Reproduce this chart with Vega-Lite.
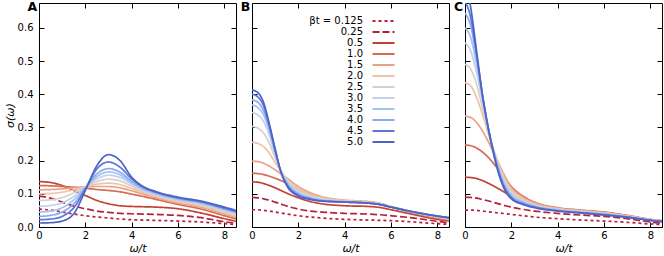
{
"$schema": "https://vega.github.io/schema/vega-lite/v6.json",
"padding": {"left": 3, "top": 0, "right": 2, "bottom": 2},
"background": "white",
"config": {
  "font": "DejaVu Sans",
  "view": {"stroke": "black", "strokeWidth": 1},
  "axis": {"domain": false, "grid": false, "ticks": true, "tickSize": -5, "tickColor": "black", "tickWidth": 1, "labelFontSize": 10, "labelColor": "black", "labelFont": "DejaVu Sans", "titleFont": "DejaVu Sans", "titleFontSize": 11, "titleFontWeight": "normal", "titleFontStyle": "italic", "titleColor": "black", "titlePadding": 2, "labelFlush": false},
  "axisX": {"labelPadding": 8},
  "axisY": {"labelPadding": 11},
  "title": {"anchor": "start", "frame": "group", "dx": -11.5, "offset": -8, "dy": 3, "baseline": "alphabetic", "fontSize": 12.5, "fontWeight": "bold", "font": "DejaVu Sans", "color": "black"}
},
"datasets": {"d": [
{"p":"A","b":"0.125","x":0,"y":0.054},{"p":"A","b":"0.125","x":0.5,"y":0.051},{"p":"A","b":"0.125","x":1,"y":0.045},{"p":"A","b":"0.125","x":1.5,"y":0.039},{"p":"A","b":"0.125","x":2,"y":0.034},{"p":"A","b":"0.125","x":2.5,"y":0.03},{"p":"A","b":"0.125","x":3,"y":0.027},{"p":"A","b":"0.125","x":3.5,"y":0.024},{"p":"A","b":"0.125","x":4,"y":0.022},{"p":"A","b":"0.125","x":4.5,"y":0.021},{"p":"A","b":"0.125","x":5,"y":0.02},{"p":"A","b":"0.125","x":6,"y":0.018},{"p":"A","b":"0.125","x":7,"y":0.015},{"p":"A","b":"0.125","x":8,"y":0.01},{"p":"A","b":"0.125","x":8.5,"y":0.007},
{"p":"A","b":"0.25","x":0,"y":0.093},{"p":"A","b":"0.25","x":0.5,"y":0.087},{"p":"A","b":"0.25","x":1,"y":0.075},{"p":"A","b":"0.25","x":1.5,"y":0.063},{"p":"A","b":"0.25","x":2,"y":0.055},{"p":"A","b":"0.25","x":2.5,"y":0.048},{"p":"A","b":"0.25","x":3,"y":0.044},{"p":"A","b":"0.25","x":3.5,"y":0.041},{"p":"A","b":"0.25","x":4,"y":0.04},{"p":"A","b":"0.25","x":4.5,"y":0.039},{"p":"A","b":"0.25","x":5,"y":0.038},{"p":"A","b":"0.25","x":6,"y":0.035},{"p":"A","b":"0.25","x":7,"y":0.028},{"p":"A","b":"0.25","x":8,"y":0.016},{"p":"A","b":"0.25","x":8.5,"y":0.011},
{"p":"A","b":"0.5","x":0,"y":0.137},{"p":"A","b":"0.5","x":0.5,"y":0.134},{"p":"A","b":"0.5","x":1,"y":0.125},{"p":"A","b":"0.5","x":1.5,"y":0.11},{"p":"A","b":"0.5","x":2,"y":0.095},{"p":"A","b":"0.5","x":2.5,"y":0.08},{"p":"A","b":"0.5","x":3,"y":0.07},{"p":"A","b":"0.5","x":3.5,"y":0.064},{"p":"A","b":"0.5","x":4,"y":0.062},{"p":"A","b":"0.5","x":4.5,"y":0.061},{"p":"A","b":"0.5","x":5,"y":0.06},{"p":"A","b":"0.5","x":6,"y":0.055},{"p":"A","b":"0.5","x":7,"y":0.042},{"p":"A","b":"0.5","x":8,"y":0.025},{"p":"A","b":"0.5","x":8.5,"y":0.017},
{"p":"A","b":"1.0","x":0,"y":0.125},{"p":"A","b":"1.0","x":0.5,"y":0.124},{"p":"A","b":"1.0","x":1,"y":0.122},{"p":"A","b":"1.0","x":1.5,"y":0.12},{"p":"A","b":"1.0","x":2,"y":0.117},{"p":"A","b":"1.0","x":2.5,"y":0.113},{"p":"A","b":"1.0","x":3,"y":0.11},{"p":"A","b":"1.0","x":3.5,"y":0.106},{"p":"A","b":"1.0","x":4,"y":0.099},{"p":"A","b":"1.0","x":4.5,"y":0.092},{"p":"A","b":"1.0","x":5,"y":0.084},{"p":"A","b":"1.0","x":6,"y":0.068},{"p":"A","b":"1.0","x":7,"y":0.054},{"p":"A","b":"1.0","x":8,"y":0.034},{"p":"A","b":"1.0","x":8.5,"y":0.024},
{"p":"A","b":"1.5","x":0,"y":0.112},{"p":"A","b":"1.5","x":0.5,"y":0.113},{"p":"A","b":"1.5","x":1,"y":0.115},{"p":"A","b":"1.5","x":1.5,"y":0.118},{"p":"A","b":"1.5","x":2,"y":0.121},{"p":"A","b":"1.5","x":2.5,"y":0.122},{"p":"A","b":"1.5","x":3,"y":0.122},{"p":"A","b":"1.5","x":3.5,"y":0.118},{"p":"A","b":"1.5","x":4,"y":0.109},{"p":"A","b":"1.5","x":4.5,"y":0.099},{"p":"A","b":"1.5","x":5,"y":0.089},{"p":"A","b":"1.5","x":6,"y":0.072},{"p":"A","b":"1.5","x":7,"y":0.059},{"p":"A","b":"1.5","x":8,"y":0.039},{"p":"A","b":"1.5","x":8.5,"y":0.029},
{"p":"A","b":"2.0","x":0,"y":0.1},{"p":"A","b":"2.0","x":0.5,"y":0.101},{"p":"A","b":"2.0","x":1,"y":0.105},{"p":"A","b":"2.0","x":1.5,"y":0.112},{"p":"A","b":"2.0","x":2,"y":0.121},{"p":"A","b":"2.0","x":2.5,"y":0.129},{"p":"A","b":"2.0","x":3,"y":0.132},{"p":"A","b":"2.0","x":3.5,"y":0.128},{"p":"A","b":"2.0","x":4,"y":0.116},{"p":"A","b":"2.0","x":4.5,"y":0.104},{"p":"A","b":"2.0","x":5,"y":0.093},{"p":"A","b":"2.0","x":6,"y":0.076},{"p":"A","b":"2.0","x":7,"y":0.063},{"p":"A","b":"2.0","x":8,"y":0.043},{"p":"A","b":"2.0","x":8.5,"y":0.033},
{"p":"A","b":"2.5","x":0,"y":0.08},{"p":"A","b":"2.5","x":0.5,"y":0.082},{"p":"A","b":"2.5","x":1,"y":0.089},{"p":"A","b":"2.5","x":1.5,"y":0.103},{"p":"A","b":"2.5","x":2,"y":0.121},{"p":"A","b":"2.5","x":2.5,"y":0.137},{"p":"A","b":"2.5","x":3,"y":0.144},{"p":"A","b":"2.5","x":3.5,"y":0.139},{"p":"A","b":"2.5","x":4,"y":0.123},{"p":"A","b":"2.5","x":4.5,"y":0.108},{"p":"A","b":"2.5","x":5,"y":0.096},{"p":"A","b":"2.5","x":6,"y":0.079},{"p":"A","b":"2.5","x":7,"y":0.067},{"p":"A","b":"2.5","x":8,"y":0.047},{"p":"A","b":"2.5","x":8.5,"y":0.037},
{"p":"A","b":"3.0","x":0,"y":0.062},{"p":"A","b":"3.0","x":0.5,"y":0.065},{"p":"A","b":"3.0","x":1,"y":0.073},{"p":"A","b":"3.0","x":1.5,"y":0.092},{"p":"A","b":"3.0","x":2,"y":0.12},{"p":"A","b":"3.0","x":2.5,"y":0.145},{"p":"A","b":"3.0","x":3,"y":0.156},{"p":"A","b":"3.0","x":3.5,"y":0.149},{"p":"A","b":"3.0","x":4,"y":0.129},{"p":"A","b":"3.0","x":4.5,"y":0.111},{"p":"A","b":"3.0","x":5,"y":0.099},{"p":"A","b":"3.0","x":6,"y":0.082},{"p":"A","b":"3.0","x":7,"y":0.07},{"p":"A","b":"3.0","x":8,"y":0.05},{"p":"A","b":"3.0","x":8.5,"y":0.04},
{"p":"A","b":"3.5","x":0,"y":0.045},{"p":"A","b":"3.5","x":0.5,"y":0.048},{"p":"A","b":"3.5","x":1,"y":0.058},{"p":"A","b":"3.5","x":1.5,"y":0.082},{"p":"A","b":"3.5","x":2,"y":0.119},{"p":"A","b":"3.5","x":2.5,"y":0.152},{"p":"A","b":"3.5","x":3,"y":0.166},{"p":"A","b":"3.5","x":3.5,"y":0.157},{"p":"A","b":"3.5","x":4,"y":0.133},{"p":"A","b":"3.5","x":4.5,"y":0.114},{"p":"A","b":"3.5","x":5,"y":0.102},{"p":"A","b":"3.5","x":6,"y":0.084},{"p":"A","b":"3.5","x":7,"y":0.072},{"p":"A","b":"3.5","x":8,"y":0.053},{"p":"A","b":"3.5","x":8.5,"y":0.043},
{"p":"A","b":"4.0","x":0,"y":0.032},{"p":"A","b":"4.0","x":0.5,"y":0.035},{"p":"A","b":"4.0","x":1,"y":0.045},{"p":"A","b":"4.0","x":1.5,"y":0.07},{"p":"A","b":"4.0","x":2,"y":0.117},{"p":"A","b":"4.0","x":2.5,"y":0.16},{"p":"A","b":"4.0","x":3,"y":0.176},{"p":"A","b":"4.0","x":3.5,"y":0.165},{"p":"A","b":"4.0","x":4,"y":0.138},{"p":"A","b":"4.0","x":4.5,"y":0.117},{"p":"A","b":"4.0","x":5,"y":0.104},{"p":"A","b":"4.0","x":6,"y":0.086},{"p":"A","b":"4.0","x":7,"y":0.074},{"p":"A","b":"4.0","x":8,"y":0.055},{"p":"A","b":"4.0","x":8.5,"y":0.045},
{"p":"A","b":"4.5","x":0,"y":0.022},{"p":"A","b":"4.5","x":0.5,"y":0.024},{"p":"A","b":"4.5","x":1,"y":0.032},{"p":"A","b":"4.5","x":1.5,"y":0.058},{"p":"A","b":"4.5","x":2,"y":0.115},{"p":"A","b":"4.5","x":2.5,"y":0.175},{"p":"A","b":"4.5","x":3,"y":0.196},{"p":"A","b":"4.5","x":3.5,"y":0.18},{"p":"A","b":"4.5","x":4,"y":0.145},{"p":"A","b":"4.5","x":4.5,"y":0.12},{"p":"A","b":"4.5","x":5,"y":0.106},{"p":"A","b":"4.5","x":6,"y":0.088},{"p":"A","b":"4.5","x":7,"y":0.076},{"p":"A","b":"4.5","x":8,"y":0.057},{"p":"A","b":"4.5","x":8.5,"y":0.047},
{"p":"A","b":"5.0","x":0,"y":0.012},{"p":"A","b":"5.0","x":0.5,"y":0.013},{"p":"A","b":"5.0","x":1,"y":0.018},{"p":"A","b":"5.0","x":1.5,"y":0.04},{"p":"A","b":"5.0","x":2,"y":0.11},{"p":"A","b":"5.0","x":2.5,"y":0.185},{"p":"A","b":"5.0","x":3,"y":0.218},{"p":"A","b":"5.0","x":3.5,"y":0.2},{"p":"A","b":"5.0","x":4,"y":0.15},{"p":"A","b":"5.0","x":4.5,"y":0.122},{"p":"A","b":"5.0","x":5,"y":0.108},{"p":"A","b":"5.0","x":6,"y":0.09},{"p":"A","b":"5.0","x":7,"y":0.078},{"p":"A","b":"5.0","x":8,"y":0.06},{"p":"A","b":"5.0","x":8.5,"y":0.05},

{"p":"B","b":"0.125","x":0,"y":0.052},{"p":"B","b":"0.125","x":0.25,"y":0.052},{"p":"B","b":"0.125","x":0.5,"y":0.05},{"p":"B","b":"0.125","x":0.75,"y":0.048},{"p":"B","b":"0.125","x":1,"y":0.045},{"p":"B","b":"0.125","x":1.25,"y":0.042},{"p":"B","b":"0.125","x":1.5,"y":0.039},{"p":"B","b":"0.125","x":2,"y":0.034},{"p":"B","b":"0.125","x":2.5,"y":0.03},{"p":"B","b":"0.125","x":3,"y":0.027},{"p":"B","b":"0.125","x":4,"y":0.023},{"p":"B","b":"0.125","x":5,"y":0.021},{"p":"B","b":"0.125","x":5.5,"y":0.02},{"p":"B","b":"0.125","x":6,"y":0.019},{"p":"B","b":"0.125","x":7,"y":0.015},{"p":"B","b":"0.125","x":8,"y":0.01},{"p":"B","b":"0.125","x":8.5,"y":0.008},
{"p":"B","b":"0.25","x":0,"y":0.089},{"p":"B","b":"0.25","x":0.25,"y":0.088},{"p":"B","b":"0.25","x":0.5,"y":0.085},{"p":"B","b":"0.25","x":0.75,"y":0.081},{"p":"B","b":"0.25","x":1,"y":0.075},{"p":"B","b":"0.25","x":1.25,"y":0.069},{"p":"B","b":"0.25","x":1.5,"y":0.063},{"p":"B","b":"0.25","x":2,"y":0.054},{"p":"B","b":"0.25","x":2.5,"y":0.048},{"p":"B","b":"0.25","x":3,"y":0.045},{"p":"B","b":"0.25","x":4,"y":0.041},{"p":"B","b":"0.25","x":5,"y":0.039},{"p":"B","b":"0.25","x":5.5,"y":0.037},{"p":"B","b":"0.25","x":6,"y":0.034},{"p":"B","b":"0.25","x":7,"y":0.027},{"p":"B","b":"0.25","x":8,"y":0.017},{"p":"B","b":"0.25","x":8.5,"y":0.012},
{"p":"B","b":"0.5","x":0,"y":0.136},{"p":"B","b":"0.5","x":0.25,"y":0.135},{"p":"B","b":"0.5","x":0.5,"y":0.131},{"p":"B","b":"0.5","x":0.75,"y":0.125},{"p":"B","b":"0.5","x":1,"y":0.118},{"p":"B","b":"0.5","x":1.25,"y":0.11},{"p":"B","b":"0.5","x":1.5,"y":0.102},{"p":"B","b":"0.5","x":2,"y":0.088},{"p":"B","b":"0.5","x":2.5,"y":0.077},{"p":"B","b":"0.5","x":3,"y":0.07},{"p":"B","b":"0.5","x":4,"y":0.064},{"p":"B","b":"0.5","x":5,"y":0.062},{"p":"B","b":"0.5","x":5.5,"y":0.059},{"p":"B","b":"0.5","x":6,"y":0.052},{"p":"B","b":"0.5","x":7,"y":0.037},{"p":"B","b":"0.5","x":8,"y":0.023},{"p":"B","b":"0.5","x":8.5,"y":0.018},
{"p":"B","b":"1.0","x":0,"y":0.162},{"p":"B","b":"1.0","x":0.25,"y":0.161},{"p":"B","b":"1.0","x":0.5,"y":0.158},{"p":"B","b":"1.0","x":0.75,"y":0.153},{"p":"B","b":"1.0","x":1,"y":0.147},{"p":"B","b":"1.0","x":1.25,"y":0.14},{"p":"B","b":"1.0","x":1.5,"y":0.132},{"p":"B","b":"1.0","x":2,"y":0.114},{"p":"B","b":"1.0","x":2.5,"y":0.099},{"p":"B","b":"1.0","x":3,"y":0.088},{"p":"B","b":"1.0","x":4,"y":0.078},{"p":"B","b":"1.0","x":5,"y":0.075},{"p":"B","b":"1.0","x":5.5,"y":0.07},{"p":"B","b":"1.0","x":6,"y":0.06},{"p":"B","b":"1.0","x":7,"y":0.042},{"p":"B","b":"1.0","x":8,"y":0.027},{"p":"B","b":"1.0","x":8.5,"y":0.021},
{"p":"B","b":"1.5","x":0,"y":0.198},{"p":"B","b":"1.5","x":0.25,"y":0.197},{"p":"B","b":"1.5","x":0.5,"y":0.192},{"p":"B","b":"1.5","x":0.75,"y":0.183},{"p":"B","b":"1.5","x":1,"y":0.172},{"p":"B","b":"1.5","x":1.25,"y":0.16},{"p":"B","b":"1.5","x":1.5,"y":0.148},{"p":"B","b":"1.5","x":2,"y":0.122},{"p":"B","b":"1.5","x":2.5,"y":0.104},{"p":"B","b":"1.5","x":3,"y":0.092},{"p":"B","b":"1.5","x":4,"y":0.081},{"p":"B","b":"1.5","x":5,"y":0.077},{"p":"B","b":"1.5","x":5.5,"y":0.072},{"p":"B","b":"1.5","x":6,"y":0.062},{"p":"B","b":"1.5","x":7,"y":0.044},{"p":"B","b":"1.5","x":8,"y":0.029},{"p":"B","b":"1.5","x":8.5,"y":0.023},
{"p":"B","b":"2.0","x":0,"y":0.255},{"p":"B","b":"2.0","x":0.25,"y":0.252},{"p":"B","b":"2.0","x":0.5,"y":0.242},{"p":"B","b":"2.0","x":0.75,"y":0.222},{"p":"B","b":"2.0","x":1,"y":0.194},{"p":"B","b":"2.0","x":1.25,"y":0.168},{"p":"B","b":"2.0","x":1.5,"y":0.147},{"p":"B","b":"2.0","x":2,"y":0.116},{"p":"B","b":"2.0","x":2.5,"y":0.099},{"p":"B","b":"2.0","x":3,"y":0.089},{"p":"B","b":"2.0","x":4,"y":0.08},{"p":"B","b":"2.0","x":5,"y":0.076},{"p":"B","b":"2.0","x":5.5,"y":0.071},{"p":"B","b":"2.0","x":6,"y":0.061},{"p":"B","b":"2.0","x":7,"y":0.044},{"p":"B","b":"2.0","x":8,"y":0.03},{"p":"B","b":"2.0","x":8.5,"y":0.024},
{"p":"B","b":"2.5","x":0,"y":0.303},{"p":"B","b":"2.5","x":0.25,"y":0.298},{"p":"B","b":"2.5","x":0.5,"y":0.283},{"p":"B","b":"2.5","x":0.75,"y":0.252},{"p":"B","b":"2.5","x":1,"y":0.208},{"p":"B","b":"2.5","x":1.25,"y":0.169},{"p":"B","b":"2.5","x":1.5,"y":0.142},{"p":"B","b":"2.5","x":2,"y":0.11},{"p":"B","b":"2.5","x":2.5,"y":0.095},{"p":"B","b":"2.5","x":3,"y":0.086},{"p":"B","b":"2.5","x":4,"y":0.078},{"p":"B","b":"2.5","x":5,"y":0.074},{"p":"B","b":"2.5","x":5.5,"y":0.07},{"p":"B","b":"2.5","x":6,"y":0.06},{"p":"B","b":"2.5","x":7,"y":0.044},{"p":"B","b":"2.5","x":8,"y":0.031},{"p":"B","b":"2.5","x":8.5,"y":0.025},
{"p":"B","b":"3.0","x":0,"y":0.345},{"p":"B","b":"3.0","x":0.25,"y":0.338},{"p":"B","b":"3.0","x":0.5,"y":0.318},{"p":"B","b":"3.0","x":0.75,"y":0.276},{"p":"B","b":"3.0","x":1,"y":0.218},{"p":"B","b":"3.0","x":1.25,"y":0.168},{"p":"B","b":"3.0","x":1.5,"y":0.137},{"p":"B","b":"3.0","x":2,"y":0.105},{"p":"B","b":"3.0","x":2.5,"y":0.091},{"p":"B","b":"3.0","x":3,"y":0.083},{"p":"B","b":"3.0","x":4,"y":0.077},{"p":"B","b":"3.0","x":5,"y":0.073},{"p":"B","b":"3.0","x":5.5,"y":0.069},{"p":"B","b":"3.0","x":6,"y":0.06},{"p":"B","b":"3.0","x":7,"y":0.045},{"p":"B","b":"3.0","x":8,"y":0.032},{"p":"B","b":"3.0","x":8.5,"y":0.026},
{"p":"B","b":"3.5","x":0,"y":0.368},{"p":"B","b":"3.5","x":0.25,"y":0.36},{"p":"B","b":"3.5","x":0.5,"y":0.337},{"p":"B","b":"3.5","x":0.75,"y":0.29},{"p":"B","b":"3.5","x":1,"y":0.224},{"p":"B","b":"3.5","x":1.25,"y":0.168},{"p":"B","b":"3.5","x":1.5,"y":0.134},{"p":"B","b":"3.5","x":2,"y":0.102},{"p":"B","b":"3.5","x":2.5,"y":0.089},{"p":"B","b":"3.5","x":3,"y":0.081},{"p":"B","b":"3.5","x":4,"y":0.076},{"p":"B","b":"3.5","x":5,"y":0.073},{"p":"B","b":"3.5","x":5.5,"y":0.068},{"p":"B","b":"3.5","x":6,"y":0.06},{"p":"B","b":"3.5","x":7,"y":0.045},{"p":"B","b":"3.5","x":8,"y":0.032},{"p":"B","b":"3.5","x":8.5,"y":0.027},
{"p":"B","b":"4.0","x":0,"y":0.383},{"p":"B","b":"4.0","x":0.25,"y":0.376},{"p":"B","b":"4.0","x":0.5,"y":0.35},{"p":"B","b":"4.0","x":0.75,"y":0.298},{"p":"B","b":"4.0","x":1,"y":0.228},{"p":"B","b":"4.0","x":1.25,"y":0.167},{"p":"B","b":"4.0","x":1.5,"y":0.131},{"p":"B","b":"4.0","x":2,"y":0.099},{"p":"B","b":"4.0","x":2.5,"y":0.087},{"p":"B","b":"4.0","x":3,"y":0.08},{"p":"B","b":"4.0","x":4,"y":0.076},{"p":"B","b":"4.0","x":5,"y":0.072},{"p":"B","b":"4.0","x":5.5,"y":0.068},{"p":"B","b":"4.0","x":6,"y":0.06},{"p":"B","b":"4.0","x":7,"y":0.045},{"p":"B","b":"4.0","x":8,"y":0.033},{"p":"B","b":"4.0","x":8.5,"y":0.027},
{"p":"B","b":"4.5","x":0,"y":0.4},{"p":"B","b":"4.5","x":0.25,"y":0.392},{"p":"B","b":"4.5","x":0.5,"y":0.365},{"p":"B","b":"4.5","x":0.75,"y":0.305},{"p":"B","b":"4.5","x":1,"y":0.232},{"p":"B","b":"4.5","x":1.25,"y":0.166},{"p":"B","b":"4.5","x":1.5,"y":0.128},{"p":"B","b":"4.5","x":2,"y":0.096},{"p":"B","b":"4.5","x":2.5,"y":0.085},{"p":"B","b":"4.5","x":3,"y":0.079},{"p":"B","b":"4.5","x":4,"y":0.075},{"p":"B","b":"4.5","x":5,"y":0.072},{"p":"B","b":"4.5","x":5.5,"y":0.068},{"p":"B","b":"4.5","x":6,"y":0.06},{"p":"B","b":"4.5","x":7,"y":0.045},{"p":"B","b":"4.5","x":8,"y":0.033},{"p":"B","b":"4.5","x":8.5,"y":0.028},
{"p":"B","b":"5.0","x":0,"y":0.413},{"p":"B","b":"5.0","x":0.25,"y":0.405},{"p":"B","b":"5.0","x":0.5,"y":0.375},{"p":"B","b":"5.0","x":0.75,"y":0.31},{"p":"B","b":"5.0","x":1,"y":0.235},{"p":"B","b":"5.0","x":1.25,"y":0.165},{"p":"B","b":"5.0","x":1.5,"y":0.125},{"p":"B","b":"5.0","x":2,"y":0.093},{"p":"B","b":"5.0","x":2.5,"y":0.083},{"p":"B","b":"5.0","x":3,"y":0.078},{"p":"B","b":"5.0","x":4,"y":0.075},{"p":"B","b":"5.0","x":5,"y":0.072},{"p":"B","b":"5.0","x":5.5,"y":0.068},{"p":"B","b":"5.0","x":6,"y":0.06},{"p":"B","b":"5.0","x":7,"y":0.045},{"p":"B","b":"5.0","x":8,"y":0.033},{"p":"B","b":"5.0","x":8.5,"y":0.028},

{"p":"C","b":"0.125","x":0,"y":0.051},{"p":"C","b":"0.125","x":0.25,"y":0.051},{"p":"C","b":"0.125","x":0.5,"y":0.05},{"p":"C","b":"0.125","x":0.75,"y":0.048},{"p":"C","b":"0.125","x":1,"y":0.046},{"p":"C","b":"0.125","x":1.25,"y":0.044},{"p":"C","b":"0.125","x":1.5,"y":0.042},{"p":"C","b":"0.125","x":1.75,"y":0.04},{"p":"C","b":"0.125","x":2,"y":0.038},{"p":"C","b":"0.125","x":2.5,"y":0.034},{"p":"C","b":"0.125","x":3,"y":0.03},{"p":"C","b":"0.125","x":4,"y":0.025},{"p":"C","b":"0.125","x":5,"y":0.021},{"p":"C","b":"0.125","x":6,"y":0.018},{"p":"C","b":"0.125","x":7,"y":0.014},{"p":"C","b":"0.125","x":8,"y":0.009},{"p":"C","b":"0.125","x":8.5,"y":0.007},
{"p":"C","b":"0.25","x":0,"y":0.09},{"p":"C","b":"0.25","x":0.25,"y":0.089},{"p":"C","b":"0.25","x":0.5,"y":0.087},{"p":"C","b":"0.25","x":0.75,"y":0.083},{"p":"C","b":"0.25","x":1,"y":0.079},{"p":"C","b":"0.25","x":1.25,"y":0.074},{"p":"C","b":"0.25","x":1.5,"y":0.069},{"p":"C","b":"0.25","x":1.75,"y":0.064},{"p":"C","b":"0.25","x":2,"y":0.06},{"p":"C","b":"0.25","x":2.5,"y":0.053},{"p":"C","b":"0.25","x":3,"y":0.048},{"p":"C","b":"0.25","x":4,"y":0.041},{"p":"C","b":"0.25","x":5,"y":0.036},{"p":"C","b":"0.25","x":6,"y":0.032},{"p":"C","b":"0.25","x":7,"y":0.025},{"p":"C","b":"0.25","x":8,"y":0.015},{"p":"C","b":"0.25","x":8.5,"y":0.011},
{"p":"C","b":"0.5","x":0,"y":0.15},{"p":"C","b":"0.5","x":0.25,"y":0.149},{"p":"C","b":"0.5","x":0.5,"y":0.146},{"p":"C","b":"0.5","x":0.75,"y":0.14},{"p":"C","b":"0.5","x":1,"y":0.132},{"p":"C","b":"0.5","x":1.25,"y":0.123},{"p":"C","b":"0.5","x":1.5,"y":0.113},{"p":"C","b":"0.5","x":1.75,"y":0.103},{"p":"C","b":"0.5","x":2,"y":0.094},{"p":"C","b":"0.5","x":2.5,"y":0.078},{"p":"C","b":"0.5","x":3,"y":0.066},{"p":"C","b":"0.5","x":4,"y":0.054},{"p":"C","b":"0.5","x":5,"y":0.049},{"p":"C","b":"0.5","x":6,"y":0.044},{"p":"C","b":"0.5","x":7,"y":0.034},{"p":"C","b":"0.5","x":8,"y":0.022},{"p":"C","b":"0.5","x":8.5,"y":0.018},
{"p":"C","b":"1.0","x":0,"y":0.247},{"p":"C","b":"1.0","x":0.25,"y":0.245},{"p":"C","b":"1.0","x":0.5,"y":0.238},{"p":"C","b":"1.0","x":0.75,"y":0.226},{"p":"C","b":"1.0","x":1,"y":0.21},{"p":"C","b":"1.0","x":1.25,"y":0.19},{"p":"C","b":"1.0","x":1.5,"y":0.168},{"p":"C","b":"1.0","x":1.75,"y":0.145},{"p":"C","b":"1.0","x":2,"y":0.122},{"p":"C","b":"1.0","x":2.5,"y":0.093},{"p":"C","b":"1.0","x":3,"y":0.075},{"p":"C","b":"1.0","x":4,"y":0.058},{"p":"C","b":"1.0","x":5,"y":0.051},{"p":"C","b":"1.0","x":6,"y":0.045},{"p":"C","b":"1.0","x":7,"y":0.035},{"p":"C","b":"1.0","x":8,"y":0.023},{"p":"C","b":"1.0","x":8.5,"y":0.019},
{"p":"C","b":"1.5","x":0,"y":0.334},{"p":"C","b":"1.5","x":0.25,"y":0.33},{"p":"C","b":"1.5","x":0.5,"y":0.315},{"p":"C","b":"1.5","x":0.75,"y":0.29},{"p":"C","b":"1.5","x":1,"y":0.258},{"p":"C","b":"1.5","x":1.25,"y":0.222},{"p":"C","b":"1.5","x":1.5,"y":0.185},{"p":"C","b":"1.5","x":1.75,"y":0.15},{"p":"C","b":"1.5","x":2,"y":0.12},{"p":"C","b":"1.5","x":2.5,"y":0.09},{"p":"C","b":"1.5","x":3,"y":0.073},{"p":"C","b":"1.5","x":4,"y":0.057},{"p":"C","b":"1.5","x":5,"y":0.05},{"p":"C","b":"1.5","x":6,"y":0.044},{"p":"C","b":"1.5","x":7,"y":0.034},{"p":"C","b":"1.5","x":8,"y":0.023},{"p":"C","b":"1.5","x":8.5,"y":0.019},
{"p":"C","b":"2.0","x":0,"y":0.435},{"p":"C","b":"2.0","x":0.25,"y":0.425},{"p":"C","b":"2.0","x":0.5,"y":0.39},{"p":"C","b":"2.0","x":0.75,"y":0.34},{"p":"C","b":"2.0","x":1,"y":0.282},{"p":"C","b":"2.0","x":1.25,"y":0.23},{"p":"C","b":"2.0","x":1.5,"y":0.182},{"p":"C","b":"2.0","x":1.75,"y":0.142},{"p":"C","b":"2.0","x":2,"y":0.112},{"p":"C","b":"2.0","x":2.5,"y":0.085},{"p":"C","b":"2.0","x":3,"y":0.07},{"p":"C","b":"2.0","x":4,"y":0.055},{"p":"C","b":"2.0","x":5,"y":0.048},{"p":"C","b":"2.0","x":6,"y":0.042},{"p":"C","b":"2.0","x":7,"y":0.033},{"p":"C","b":"2.0","x":8,"y":0.022},{"p":"C","b":"2.0","x":8.5,"y":0.018},
{"p":"C","b":"2.5","x":0,"y":0.49},{"p":"C","b":"2.5","x":0.25,"y":0.475},{"p":"C","b":"2.5","x":0.5,"y":0.43},{"p":"C","b":"2.5","x":0.75,"y":0.36},{"p":"C","b":"2.5","x":1,"y":0.29},{"p":"C","b":"2.5","x":1.25,"y":0.229},{"p":"C","b":"2.5","x":1.5,"y":0.176},{"p":"C","b":"2.5","x":1.75,"y":0.134},{"p":"C","b":"2.5","x":2,"y":0.105},{"p":"C","b":"2.5","x":2.5,"y":0.081},{"p":"C","b":"2.5","x":3,"y":0.067},{"p":"C","b":"2.5","x":4,"y":0.053},{"p":"C","b":"2.5","x":5,"y":0.047},{"p":"C","b":"2.5","x":6,"y":0.041},{"p":"C","b":"2.5","x":7,"y":0.032},{"p":"C","b":"2.5","x":8,"y":0.022},{"p":"C","b":"2.5","x":8.5,"y":0.018},
{"p":"C","b":"3.0","x":0,"y":0.555},{"p":"C","b":"3.0","x":0.25,"y":0.53},{"p":"C","b":"3.0","x":0.5,"y":0.465},{"p":"C","b":"3.0","x":0.75,"y":0.38},{"p":"C","b":"3.0","x":1,"y":0.295},{"p":"C","b":"3.0","x":1.25,"y":0.227},{"p":"C","b":"3.0","x":1.5,"y":0.17},{"p":"C","b":"3.0","x":1.75,"y":0.128},{"p":"C","b":"3.0","x":2,"y":0.1},{"p":"C","b":"3.0","x":2.5,"y":0.078},{"p":"C","b":"3.0","x":3,"y":0.065},{"p":"C","b":"3.0","x":4,"y":0.052},{"p":"C","b":"3.0","x":5,"y":0.046},{"p":"C","b":"3.0","x":6,"y":0.04},{"p":"C","b":"3.0","x":7,"y":0.031},{"p":"C","b":"3.0","x":8,"y":0.021},{"p":"C","b":"3.0","x":8.5,"y":0.017},
{"p":"C","b":"3.5","x":0,"y":0.6},{"p":"C","b":"3.5","x":0.25,"y":0.57},{"p":"C","b":"3.5","x":0.5,"y":0.49},{"p":"C","b":"3.5","x":0.75,"y":0.39},{"p":"C","b":"3.5","x":1,"y":0.297},{"p":"C","b":"3.5","x":1.25,"y":0.225},{"p":"C","b":"3.5","x":1.5,"y":0.165},{"p":"C","b":"3.5","x":1.75,"y":0.122},{"p":"C","b":"3.5","x":2,"y":0.096},{"p":"C","b":"3.5","x":2.5,"y":0.075},{"p":"C","b":"3.5","x":3,"y":0.063},{"p":"C","b":"3.5","x":4,"y":0.051},{"p":"C","b":"3.5","x":5,"y":0.045},{"p":"C","b":"3.5","x":6,"y":0.039},{"p":"C","b":"3.5","x":7,"y":0.031},{"p":"C","b":"3.5","x":8,"y":0.021},{"p":"C","b":"3.5","x":8.5,"y":0.017},
{"p":"C","b":"4.0","x":0,"y":0.645},{"p":"C","b":"4.0","x":0.25,"y":0.605},{"p":"C","b":"4.0","x":0.5,"y":0.51},{"p":"C","b":"4.0","x":0.75,"y":0.395},{"p":"C","b":"4.0","x":1,"y":0.298},{"p":"C","b":"4.0","x":1.25,"y":0.222},{"p":"C","b":"4.0","x":1.5,"y":0.16},{"p":"C","b":"4.0","x":1.75,"y":0.117},{"p":"C","b":"4.0","x":2,"y":0.092},{"p":"C","b":"4.0","x":2.5,"y":0.072},{"p":"C","b":"4.0","x":3,"y":0.062},{"p":"C","b":"4.0","x":4,"y":0.05},{"p":"C","b":"4.0","x":5,"y":0.044},{"p":"C","b":"4.0","x":6,"y":0.038},{"p":"C","b":"4.0","x":7,"y":0.03},{"p":"C","b":"4.0","x":8,"y":0.021},{"p":"C","b":"4.0","x":8.5,"y":0.017},
{"p":"C","b":"4.5","x":0,"y":0.68},{"p":"C","b":"4.5","x":0.25,"y":0.63},{"p":"C","b":"4.5","x":0.5,"y":0.52},{"p":"C","b":"4.5","x":0.75,"y":0.4},{"p":"C","b":"4.5","x":1,"y":0.3},{"p":"C","b":"4.5","x":1.25,"y":0.22},{"p":"C","b":"4.5","x":1.5,"y":0.155},{"p":"C","b":"4.5","x":1.75,"y":0.112},{"p":"C","b":"4.5","x":2,"y":0.088},{"p":"C","b":"4.5","x":2.5,"y":0.07},{"p":"C","b":"4.5","x":3,"y":0.06},{"p":"C","b":"4.5","x":4,"y":0.049},{"p":"C","b":"4.5","x":5,"y":0.043},{"p":"C","b":"4.5","x":6,"y":0.037},{"p":"C","b":"4.5","x":7,"y":0.03},{"p":"C","b":"4.5","x":8,"y":0.02},{"p":"C","b":"4.5","x":8.5,"y":0.017},
{"p":"C","b":"5.0","x":0,"y":0.74},{"p":"C","b":"5.0","x":0.25,"y":0.66},{"p":"C","b":"5.0","x":0.5,"y":0.53},{"p":"C","b":"5.0","x":0.75,"y":0.4},{"p":"C","b":"5.0","x":1,"y":0.3},{"p":"C","b":"5.0","x":1.25,"y":0.215},{"p":"C","b":"5.0","x":1.5,"y":0.15},{"p":"C","b":"5.0","x":1.75,"y":0.107},{"p":"C","b":"5.0","x":2,"y":0.085},{"p":"C","b":"5.0","x":2.5,"y":0.068},{"p":"C","b":"5.0","x":3,"y":0.058},{"p":"C","b":"5.0","x":4,"y":0.048},{"p":"C","b":"5.0","x":5,"y":0.042},{"p":"C","b":"5.0","x":6,"y":0.036},{"p":"C","b":"5.0","x":7,"y":0.029},{"p":"C","b":"5.0","x":8,"y":0.02},{"p":"C","b":"5.0","x":8.5,"y":0.016}
]},
"spacing": 16,
"bounds": "flush",
"resolve": {"legend": {"color": "independent", "strokeDash": "independent"}},
"hconcat": [
{
 "width": 197, "height": 224,
 "data": {"name": "d"},
 "title": {"text": "A", "dx": -11.5},
 "transform": [{"filter": "datum.p == 'A'"}],
 "layer": [
  {"mark": {"type": "line", "interpolate": "monotone", "strokeWidth": 1.7, "clip": true},
   "encoding": {
    "x": {"field": "x", "type": "quantitative", "scale": {"domain": [0, 8.5], "nice": false, "zero": false}, "axis": {"values": [0, 2, 4, 6, 8], "title": "ω/t"}},
    "y": {"field": "y", "type": "quantitative", "scale": {"domain": [0, 0.675], "nice": false}, "axis": {"values": [0, 0.1, 0.2, 0.3, 0.4, 0.5, 0.6], "format": ".1f", "title": "σ(ω)"}},
    "color": {"field": "b", "type": "nominal", "scale": {"domain": ["0.125","0.25","0.5","1.0","1.5","2.0","2.5","3.0","3.5","4.0","4.5","5.0"], "range": ["#b5203f","#b5203f","#c44036","#d66a55","#e9a284","#efc2aa","#d6d1cc","#c2d0ea","#a3c1f5","#8aaaeb","#5877dc","#4f63c0"]}, "legend": null},
    "strokeDash": {"field": "b", "type": "nominal", "scale": {"domain": ["0.125","0.25","0.5","1.0","1.5","2.0","2.5","3.0","3.5","4.0","4.5","5.0"], "range": [[3,3],[7,3],[1,0],[1,0],[1,0],[1,0],[1,0],[1,0],[1,0],[1,0],[1,0],[1,0]]}, "legend": null}
   }},
  {"mark": {"type": "line", "opacity": 0, "clip": true},
   "encoding": {
    "x": {"field": "x", "type": "quantitative", "scale": {"domain": [0, 8.5], "nice": false, "zero": false}, "axis": {"orient": "top", "values": [0, 2, 4, 6, 8], "labels": false, "title": null}},
    "y": {"field": "y", "type": "quantitative", "scale": {"domain": [0, 0.675], "nice": false}, "axis": {"orient": "right", "values": [0, 0.1, 0.2, 0.3, 0.4, 0.5, 0.6], "labels": false, "title": null}},
    "detail": {"field": "b"}
   }}
 ],
 "resolve": {"axis": {"x": "independent", "y": "independent"}}
},
{
 "width": 197, "height": 224,
 "data": {"name": "d"},
 "title": {"text": "B", "dx": -11.3},
 "transform": [{"filter": "datum.p == 'B'"}],
 "layer": [
  {"mark": {"type": "line", "interpolate": "monotone", "strokeWidth": 1.7, "clip": true},
   "encoding": {
    "x": {"field": "x", "type": "quantitative", "scale": {"domain": [0, 8.5], "nice": false, "zero": false}, "axis": {"values": [0, 2, 4, 6, 8], "title": "ω/t"}},
    "y": {"field": "y", "type": "quantitative", "scale": {"domain": [0, 0.675], "nice": false}, "axis": {"values": [0, 0.1, 0.2, 0.3, 0.4, 0.5, 0.6], "labels": false, "title": null}},
    "color": {"field": "b", "type": "nominal", "scale": {"domain": ["0.125","0.25","0.5","1.0","1.5","2.0","2.5","3.0","3.5","4.0","4.5","5.0"], "range": ["#b5203f","#b5203f","#c44036","#d66a55","#e9a284","#efc2aa","#d6d1cc","#c2d0ea","#a3c1f5","#8aaaeb","#5877dc","#4f63c0"]},
      "legend": {"title": null, "orient": "none", "legendX": 111, "legendY": 12, "padding": 0, "offset": 0, "labelFontSize": 10, "labelFont": "DejaVu Sans", "labelColor": "black", "symbolType": "M-2.2,0H2.2", "symbolSize": 100, "symbolStrokeWidth": 2, "rowPadding": -1, "labelAlign": "right", "labelExpr": "datum.label == '0.125' ? 'βt = 0.125' : datum.label", "encode": {"labels": {"update": {"x": {"value": 0}}}, "symbols": {"update": {"x": {"value": 20.5}}}}}},
    "strokeDash": {"field": "b", "type": "nominal", "scale": {"domain": ["0.125","0.25","0.5","1.0","1.5","2.0","2.5","3.0","3.5","4.0","4.5","5.0"], "range": [[3,3],[7,3],[1,0],[1,0],[1,0],[1,0],[1,0],[1,0],[1,0],[1,0],[1,0],[1,0]]},
      "legend": {"title": null, "orient": "none", "legendX": 111, "legendY": 12, "padding": 0, "offset": 0, "labelFontSize": 10, "labelFont": "DejaVu Sans", "labelColor": "black", "symbolType": "M-2.2,0H2.2", "symbolSize": 100, "symbolStrokeWidth": 2, "rowPadding": -1, "labelAlign": "right", "labelExpr": "datum.label == '0.125' ? 'βt = 0.125' : datum.label", "encode": {"labels": {"update": {"x": {"value": 0}}}, "symbols": {"update": {"x": {"value": 20.5}}}}}}
   }},
  {"mark": {"type": "line", "opacity": 0, "clip": true},
   "encoding": {
    "x": {"field": "x", "type": "quantitative", "scale": {"domain": [0, 8.5], "nice": false, "zero": false}, "axis": {"orient": "top", "values": [0, 2, 4, 6, 8], "labels": false, "title": null}},
    "y": {"field": "y", "type": "quantitative", "scale": {"domain": [0, 0.675], "nice": false}, "axis": {"orient": "right", "values": [0, 0.1, 0.2, 0.3, 0.4, 0.5, 0.6], "labels": false, "title": null}},
    "detail": {"field": "b"}
   }}
 ],
 "resolve": {"axis": {"x": "independent", "y": "independent"}}
},
{
 "width": 197, "height": 224,
 "data": {"name": "d"},
 "title": {"text": "C", "dx": -11},
 "transform": [{"filter": "datum.p == 'C'"}],
 "layer": [
  {"mark": {"type": "line", "interpolate": "monotone", "strokeWidth": 1.7, "clip": true},
   "encoding": {
    "x": {"field": "x", "type": "quantitative", "scale": {"domain": [0, 8.5], "nice": false, "zero": false}, "axis": {"values": [0, 2, 4, 6, 8], "title": "ω/t"}},
    "y": {"field": "y", "type": "quantitative", "scale": {"domain": [0, 0.675], "nice": false}, "axis": {"values": [0, 0.1, 0.2, 0.3, 0.4, 0.5, 0.6], "labels": false, "title": null}},
    "color": {"field": "b", "type": "nominal", "scale": {"domain": ["0.125","0.25","0.5","1.0","1.5","2.0","2.5","3.0","3.5","4.0","4.5","5.0"], "range": ["#b5203f","#b5203f","#c44036","#d66a55","#e9a284","#efc2aa","#d6d1cc","#c2d0ea","#a3c1f5","#8aaaeb","#5877dc","#4f63c0"]}, "legend": null},
    "strokeDash": {"field": "b", "type": "nominal", "scale": {"domain": ["0.125","0.25","0.5","1.0","1.5","2.0","2.5","3.0","3.5","4.0","4.5","5.0"], "range": [[3,3],[7,3],[1,0],[1,0],[1,0],[1,0],[1,0],[1,0],[1,0],[1,0],[1,0],[1,0]]}, "legend": null}
   }},
  {"mark": {"type": "line", "opacity": 0, "clip": true},
   "encoding": {
    "x": {"field": "x", "type": "quantitative", "scale": {"domain": [0, 8.5], "nice": false, "zero": false}, "axis": {"orient": "top", "values": [0, 2, 4, 6, 8], "labels": false, "title": null}},
    "y": {"field": "y", "type": "quantitative", "scale": {"domain": [0, 0.675], "nice": false}, "axis": {"orient": "right", "values": [0, 0.1, 0.2, 0.3, 0.4, 0.5, 0.6], "labels": false, "title": null}},
    "detail": {"field": "b"}
   }}
 ],
 "resolve": {"axis": {"x": "independent", "y": "independent"}}
}
]
}
